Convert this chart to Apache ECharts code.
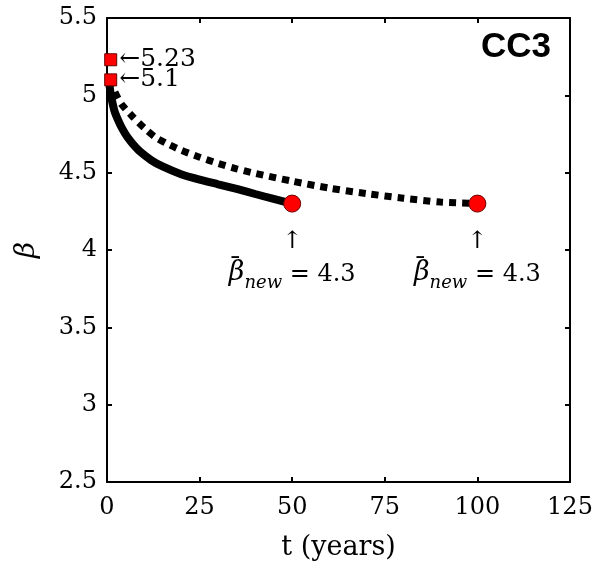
<!DOCTYPE html>
<html><head><meta charset="utf-8">
<script src="https://cdn.jsdelivr.net/npm/echarts@6/dist/echarts.min.js"></script>
<style>html,body{margin:0;padding:0;background:#fff}#c{width:597px;height:572px}</style>
</head><body><div id="c"></div>
<script>
// Data
const solidT    = [0.5, 1, 2, 3, 4, 5.5, 7, 9, 12, 15, 20, 25, 30, 35, 40, 45, 50];
const solidBeta = [5.1, 5.01, 4.9, 4.84, 4.79, 4.73, 4.685, 4.635, 4.58, 4.54, 4.49, 4.455, 4.425, 4.395, 4.362, 4.33, 4.30];
const dotT      = [1, 2, 3, 4, 7, 10, 13, 16, 20, 25, 30, 35, 40, 50, 60, 70, 80, 90, 100];
const dotBeta   = [5.1, 5.03, 4.98, 4.94, 4.86, 4.79, 4.73, 4.69, 4.645, 4.6, 4.56, 4.525, 4.495, 4.445, 4.40, 4.365, 4.335, 4.31, 4.30];
const startT    = [1, 1];
const startBeta = [5.23, 5.1];
const startLabels = ['←5.23', '←5.1'];
const endT      = [50, 100];
const endBeta   = [4.3, 4.3];
const xTicks = [0, 25, 50, 75, 100, 125];
const yTicks = [2.5, 3, 3.5, 4, 4.5, 5, 5.5];
const panelLabel = 'CC3';

const serif = 'DejaVu Serif';
const zip = (a, b) => a.map((v, i) => [v, b[i]]);

const chart = echarts.init(document.getElementById('c'), null, {renderer: 'canvas'});
const axisLine = {show: true, onZero: false, lineStyle: {color: '#000', width: 2}};
const axisTick = {show: true, inside: true, length: 5, lineStyle: {color: '#000', width: 2}};

chart.setOption({
  animation: false,
  backgroundColor: '#fff',
  grid: {left: 107, right: 27, top: 18, bottom: 90, containLabel: false},
  xAxis: [{
    type: 'value', min: 0, max: 125, interval: 25, position: 'bottom',
    axisLine, axisTick, splitLine: {show: false},
    axisLabel: {fontFamily: serif, fontSize: 24, color: '#000', margin: 14},
    name: 't (years)', nameLocation: 'middle', nameGap: 52,
    nameTextStyle: {fontFamily: serif, fontSize: 27, color: '#000'}
  }, {
    type: 'value', min: 0, max: 125, interval: 25, position: 'top',
    axisLine, axisTick, splitLine: {show: false}, axisLabel: {show: false}
  }],
  yAxis: [{
    type: 'value', min: 2.5, max: 5.5, interval: 0.5, position: 'left',
    axisLine, axisTick, splitLine: {show: false},
    axisLabel: {fontFamily: serif, fontSize: 24, color: '#000', margin: 10,
      formatter: v => String(yTicks.find(t => Math.abs(t - v) < 1e-9) ?? v)},
    name: 'β', nameLocation: 'middle', nameGap: 66,
    nameTextStyle: {fontFamily: serif, fontSize: 28, fontStyle: 'italic', color: '#000'}
  }, {
    type: 'value', min: 2.5, max: 5.5, interval: 0.5, position: 'right',
    axisLine, axisTick, splitLine: {show: false}, axisLabel: {show: false}
  }],
  series: [{
    type: 'line', data: zip(solidT, solidBeta), smooth: 0.25, symbol: 'none', z: 3,
    lineStyle: {color: '#000', width: 8, cap: 'round'}
  }, {
    type: 'line', data: zip(dotT, dotBeta), smooth: 0.25, symbol: 'none', z: 3,
    lineStyle: {color: '#000', width: 7, type: [7, 6], cap: 'butt'}
  }, {
    type: 'scatter', data: zip(startT, startBeta), symbol: 'rect', symbolSize: 12, z: 5,
    itemStyle: {color: '#ff0000', borderColor: '#6a0000', borderWidth: 1, opacity: 1},
    label: {show: true, position: 'right', distance: 2, fontFamily: serif, fontSize: 25, color: '#000',
      formatter: p => startLabels[p.dataIndex]}
  }, {
    type: 'scatter', data: zip(endT, endBeta), symbol: 'circle', symbolSize: 17, z: 5,
    itemStyle: {color: '#ff0000', borderColor: '#6a0000', borderWidth: 1, opacity: 1},
    label: {show: true, position: 'bottom', distance: 12, align: 'center', color: '#000',
      formatter: p => '{bar|¯}{sp| }{a|↑}{sp| }{ghost| }\n{b|β}{s|new}{t| = ' + endBeta[p.dataIndex] + '}',
      rich: {
        bar: {fontFamily: serif, fontSize: 26, width: 14, align: 'center', color: '#000', lineHeight: 34, verticalAlign: 'bottom', padding: [0, 0, -24, 0]},
        ghost: {fontFamily: serif, fontSize: 22, width: 14, color: '#000', lineHeight: 34},
        sp: {fontFamily: serif, fontSize: 22, width: 40, color: '#000', lineHeight: 34},
        a: {fontFamily: serif, fontSize: 24, lineHeight: 34, color: '#000'},
        b: {fontFamily: serif, fontSize: 27, fontStyle: 'italic', lineHeight: 28, verticalAlign: 'bottom', color: '#000'},
        s: {fontFamily: serif, fontSize: 18, fontStyle: 'italic', lineHeight: 28, verticalAlign: 'bottom', padding: [0, 0, -6, 0], color: '#000'},
        t: {fontFamily: serif, fontSize: 24, lineHeight: 28, verticalAlign: 'bottom', color: '#000'}
      }}
  }],
  graphic: [{
    type: 'text', left: 481, top: 30, z: 10,
    style: {text: panelLabel, font: 'bold 35px "Liberation Sans", sans-serif', fill: '#000'}
  }]
});
</script></body></html>
